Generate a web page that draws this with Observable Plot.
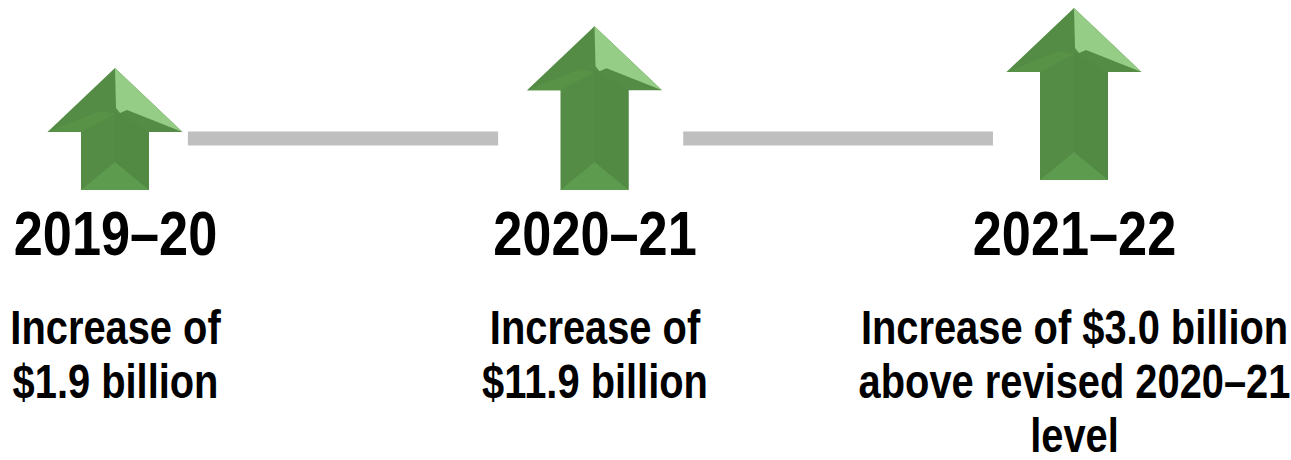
<!DOCTYPE html>
<html>
<head>
<meta charset="utf-8">
<script src="https://cdn.jsdelivr.net/npm/d3@7"></script>
<script src="https://cdn.jsdelivr.net/npm/@observablehq/plot@0.6"></script>
<style>
  html, body { margin: 0; padding: 0; background: #fff; }
  #chart { width: 1291px; height: 460px; }
</style>
</head>
<body>
<div id="chart"></div>
<script>
// ---- data ----
const years = ["2019–20", "2020–21", "2021–22"];
const descriptions = [
  "Increase of\n$1.9 billion",
  "Increase of\n$11.9 billion",
  "Increase of $3.0 billion\nabove revised 2020–21\nlevel"
];
// arrow extents (relative level units, 0 = common base, 1 = tallest arrow top)
const arrowTop = [0.67, 0.90, 1.0];
const arrowBase = [0, 0, 0.055];
// grey connectors between arrows (x in column-index units)
const connectorFrom = [0.152, 1.185];
const connectorTo = [0.799, 1.831];
const connectorLevel = [0.286, 0.286];

const FONT = '"Liberation Sans", Arial, sans-serif';
const NARROW = 0.83; // horizontal condensing to mimic a narrow face

const columns = years.map((yr, i) => ({i, year: yr, desc: descriptions[i], top: arrowTop[i], base: arrowBase[i]}));
const connectors = connectorFrom.map((f, i) => ({from: f, to: connectorTo[i], level: connectorLevel[i]}));

// custom arrow drawing using Plot's scales
function arrows(index, scales) {
  const {x, y} = scales;
  const g = d3.create("svg:g");
  const hw = 67.5, hh = 64, sw = 34;
  columns.forEach(c => {
    const cx = x(c.i), ty = y(c.top), by = y(c.base);
    const hb = ty + hh;
    const pts = (arr) => arr.map(p => p.join(",")).join(" ");
    g.append("polygon")
      .attr("points", pts([[cx, ty], [cx + hw, hb], [cx + sw, hb], [cx + sw, by], [cx - sw, by], [cx - sw, hb], [cx - hw, hb]]))
      .attr("fill", "#548c45");
    g.append("polygon")
      .attr("points", pts([[cx, hb - 20], [cx + sw, hb], [cx + sw, by], [cx, by]]))
      .attr("fill", "#528a44");
    g.append("polygon")
      .attr("points", pts([[cx - hw, hb], [cx - 15, ty + 43], [cx, ty + 46], [cx - sw, hb]]))
      .attr("fill", "#579246");
    g.append("polygon")
      .attr("points", pts([[cx - sw, by], [cx, by - 28], [cx + sw, by]]))
      .attr("fill", "#5d9b4e");
    g.append("polygon")
      .attr("points", pts([[cx, ty], [cx + hw, hb], [cx + 12, ty + 42], [cx + 5, ty + 45], [cx + 1, ty + 40]]))
      .attr("fill", "#95cc86");
  });
  return g.node();
}

const chart = Plot.plot({
  width: 1291,
  height: 460,
  margin: 0,
  style: {fontFamily: FONT, background: "#fff", overflow: "visible"},
  x: {domain: [0, 2], range: [115, 1074], axis: null},
  y: {domain: [0, 1], range: [190, 8], axis: null},
  marks: [
    Plot.ruleY(connectors, {y: "level", x1: "from", x2: "to", stroke: "#bfbfbf", strokeWidth: 14}),
    arrows,
    Plot.text(columns, {
      x: "i", text: "year", frameAnchor: "top", lineAnchor: "top", dy: 210,
      fontSize: 63, fontWeight: "bold", fill: "#000", fontFamily: FONT
    }),
    Plot.text(columns, {
      x: "i", text: "desc", frameAnchor: "top", lineAnchor: "top", dy: 305,
      fontSize: 48, fontWeight: "bold", lineHeight: 1.13, fill: "#000", fontFamily: FONT
    })
  ]
});

// condense the text horizontally around each label's anchor (x only; y offsets untouched)
d3.select(chart).selectAll("text").each(function() {
  const t = this;
  let tr = t.getAttribute("transform") || "";
  if (t.hasAttribute("x")) {
    const x = parseFloat(t.getAttribute("x")) || 0;
    t.removeAttribute("x");
    tr = `translate(${x},0) ` + tr;
  }
  t.setAttribute("transform", tr + ` scale(${NARROW},1)`);
});

document.getElementById("chart").appendChild(chart);
</script>
</body>
</html>
